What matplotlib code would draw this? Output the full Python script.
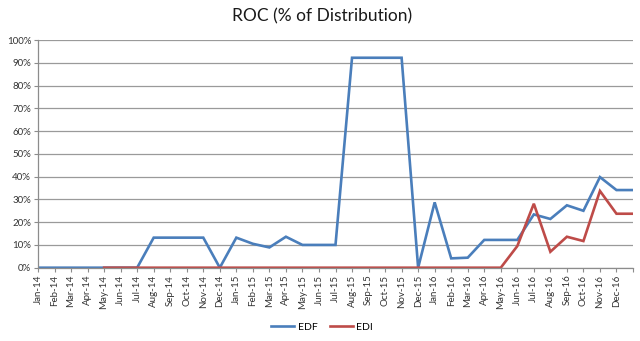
import matplotlib.pyplot as plt
import numpy as np

months = ['Jan', 'Feb', 'Mar', 'Apr', 'May', 'Jun',
          'Jul', 'Aug', 'Sep', 'Oct', 'Nov', 'Dec']
labels = [m + '-' + y for y in ['14', '15', '16'] for m in months] + ['']

# ROC as % of distribution, one value per month
edf = [0, 0, 0, 0, 0, 0, 0, 13.2, 13.2, 13.2, 13.2, 0,
       13.2, 10.5, 8.9, 13.6, 10.0, 10.0, 10.0, 92.2, 92.2, 92.2, 92.2, 0,
       28.7, 4.1, 4.4, 12.2, 12.2, 12.2, 23.4, 21.4, 27.4, 25.0, 39.8, 34.1,
       34.1]
edi = [None, None, None, None, 0, 0, 0, 0, 0, 0, 0, 0,
       0, 0, 0, 0, 0, 0, 0, 0, 0, 0, 0, 0,
       0, 0, 0, 0, 0, 9.5, 28.1, 7.0, 13.6, 11.7, 33.7, 23.7,
       23.7]

plt.rcParams['font.family'] = ['Lato', 'DejaVu Sans']

fig = plt.figure(figsize=(6.4, 3.41), dpi=100)
ax = fig.add_axes([38/640, 1 - 267.7/341, (633 - 38)/640, (267.7 - 40)/341])

x = np.arange(len(labels))
edi_arr = np.array([np.nan if v is None else v for v in edi], dtype=float)
ax.plot(x, edf, color='#4A7EBB', lw=1.9, label='EDF', solid_joinstyle='miter')
ax.plot(x, edi_arr, color='#BE4B48', lw=1.9, label='EDI', solid_joinstyle='miter')

ax.set_xlim(0, len(labels) - 1)
ax.set_ylim(0, 100)
ax.set_yticks(np.arange(0, 101, 10))
ax.set_yticklabels(['%d%%' % v for v in range(0, 101, 10)], fontsize=7, color='#333333')
ax.set_xticks(x)
ax.set_xticklabels(labels, rotation=90, fontsize=7, color='#333333')

ax.grid(axis='y', color='#9a9a9a', lw=0.9)
ax.set_axisbelow(True)
for side in ['top', 'right']:
    ax.spines[side].set_visible(False)
for side in ['left', 'bottom']:
    ax.spines[side].set_color('#8c8c8c')
    ax.spines[side].set_linewidth(0.9)
ax.tick_params(axis='both', length=3, width=0.8, color='#8c8c8c', pad=2)

fig.suptitle('ROC (% of Distribution)', x=322/640, y=1 - 16/341, va='center',
             fontsize=12.5, color='#1a1a1a')
fig.legend(loc='center', bbox_to_anchor=(322/640, 1 - 327/341), ncol=2,
           frameon=False, fontsize=7.5, handlelength=2.2, columnspacing=1.2,
           handletextpad=0.3)

fig.savefig('out.png', dpi=100)
